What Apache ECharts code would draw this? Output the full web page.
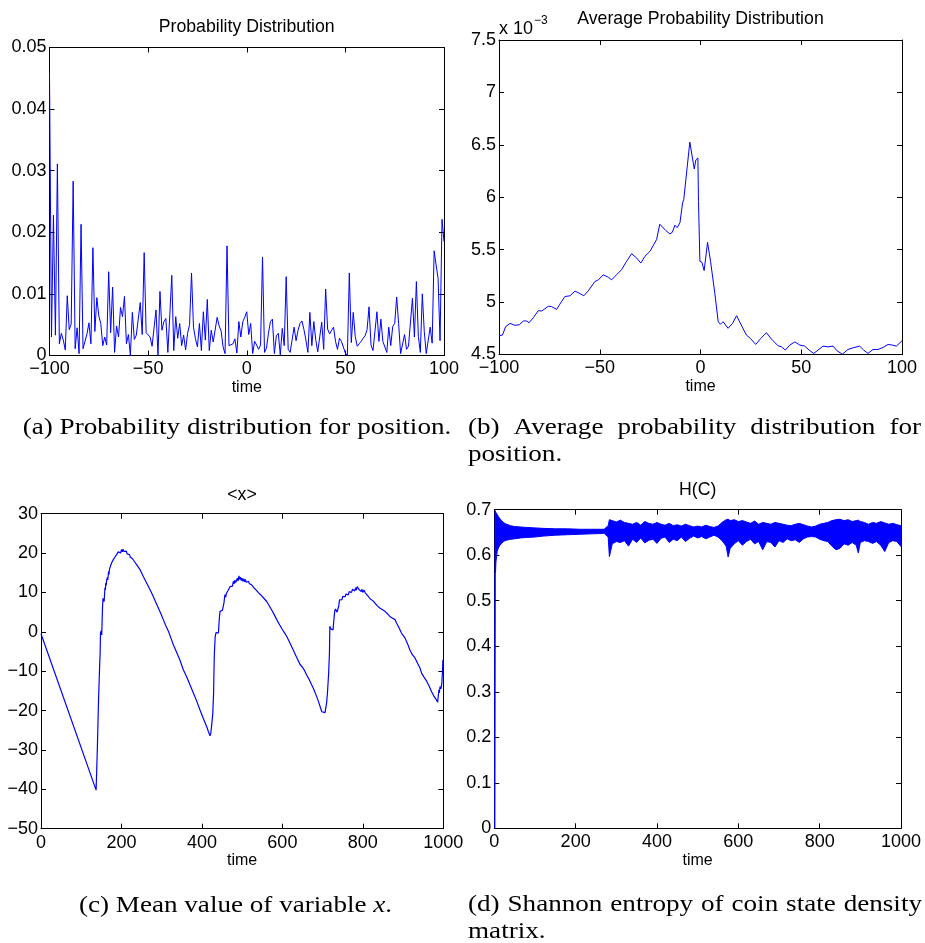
<!DOCTYPE html>
<html><head><meta charset="utf-8">
<script src="https://cdn.jsdelivr.net/npm/echarts@6/dist/echarts.min.js"></script>
<style>html,body{margin:0;padding:0;background:#fff}#c{width:925px;height:943px}</style>
</head><body><div id="c"></div>
<script>
// ---------- DATA ----------
// (a) probability at positions -100..100 (one value per integer position)
const posAStart = -100;
const probA = [
0.0459,0.003,0.0228,0.0033,0.0311,0.0019,0.0036,0.0025,0.0009,0.0097,
0.0042,0.0051,0.0283,0.0011,0.0045,0.0003,0.0213,0.0011,0.0011,0.0035,
0.0053,0.0019,0.0175,0.0039,0.0094,0.0064,0.0052,0.0016,0.003,0.0017,
0.0136,0.0037,0.0111,0.0005,0.0048,0.003,0.0078,0.0063,0.0096,0.0019,
0.0034,0.0,0.007,0.0026,0.0033,0.0033,0.0086,0.0034,0.0167,0.0037,
0.0039,0.003,0.0015,0.0015,0.0074,0.0,0.0104,0.0041,0.0055,0.006,
0.0005,0.0066,0.013,0.0008,0.0063,0.0028,0.0052,0.0016,0.0033,0.0009,
0.0036,0.005,0.0134,0.0046,0.0027,0.0014,0.0052,0.0008,0.0071,0.0025,
0.0091,0.0008,0.0041,0.0022,0.0022,0.0062,0.0048,0.004,0.0014,0.0003,
0.0178,0.0016,0.0014,0.0019,0.0027,0.0004,0.0055,0.003,0.0055,0.0062,
0.0071,
0.0034,0.0052,0.0003,0.0023,0.0017,0.001,0.0017,0.016,0.0005,0.0012,
0.0036,0.0055,0.0059,0.0003,0.0032,0.0036,0.0001,0.0044,0.0016,0.0128,
0.001,0.0005,0.0006,0.0046,0.0024,0.0041,0.0052,0.0056,0.0042,0.0025,
0.0005,0.007,0.0016,0.0055,0.0025,0.0006,0.0005,0.0054,0.001,0.0108,
0.0043,0.0035,0.0041,0.0046,0.0023,0.001,0.0028,0.0023,0.002,0.0004,
0.0,0.0134,0.0021,0.007,0.0031,0.0015,0.0019,0.0023,0.0028,0.0032,
0.0042,0.0079,0.0017,0.0008,0.0008,0.0071,0.0023,0.0059,0.0023,0.0025,
0.0005,0.0046,0.0016,0.0047,0.0052,0.0095,0.0052,0.0003,0.0003,0.0034,
0.001,0.0015,0.0014,0.0093,0.003,0.012,0.0031,0.0005,0.01,0.0039,
0.0003,0.0003,0.0046,0.002,0.017,0.0147,0.0125,0.0024,0.0221,0.0185];

// (b) average probability (in units of 10^-3)
const posB = [-100,-98.3,-96.7,-94.5,-92.1,-89.9,-87.9,-86.3,-85.1,-83,-80.5,-78.8,-75.5,-73.9,-71.4,-69.8,-67.3,-64.8,-62.3,-60.7,-57.9,-55.7,-52.4,-50.7,-48.3,-45.8,-44.1,-41.7,-39.2,-36.7,-34.2,-31.7,-29.6,-27.6,-25.1,-21.8,-20.2,-19.3,-17.2,-15.2,-14,-12.7,-11.6,-10.2,-8.9,-8.3,-5.3,-3.1,-2.3,-1.3,-1,-0.3,0.7,1.8,3.5,5,7.1,8.8,9.9,11.2,12.1,13.7,15.9,17.9,18.7,20.8,22.8,24.8,27.4,29.9,32.7,35.2,38.5,40.2,42.1,44.3,46.8,49.3,51.7,53.9,56.2,58.3,60.8,63.3,65.8,67.8,70.4,73.2,75.7,79,81,83.1,85.6,88.1,90.6,93.1,95.2,97.2,100];
const probB = [4.68,4.685,4.765,4.797,4.778,4.784,4.82,4.82,4.803,4.85,4.918,4.915,4.96,4.957,4.93,4.98,5.053,5.06,5.104,5.09,5.06,5.107,5.196,5.212,5.26,5.238,5.212,5.26,5.308,5.388,5.462,5.42,5.372,5.436,5.484,5.596,5.743,5.743,5.682,5.65,5.665,5.733,5.71,5.756,5.947,5.98,6.526,6.27,6.356,6.375,5.96,5.388,5.38,5.3,5.57,5.388,5.085,4.813,4.788,4.813,4.813,4.75,4.797,4.87,4.86,4.759,4.685,4.653,4.596,4.653,4.708,4.647,4.583,4.573,4.542,4.59,4.62,4.59,4.58,4.542,4.51,4.542,4.58,4.573,4.58,4.535,4.503,4.548,4.564,4.58,4.542,4.51,4.548,4.548,4.567,4.596,4.59,4.58,4.631];

// (c) mean value <x> : [time, value]
const meanC = [[0,-0.5],[137,-40.2],[140,-30],[143,-17.3],[146,-8],[147,-5.4],[148,0.1],[149,-0.5],[150,0.3],[151,-0.8],[152,3],[153,6.4],[154,8.5],[155,9],[156,8.2],[157,7.7],[158,9.6],[159,11.2],[160,10.6],[161,12.4],[162,11.8],[163,13],[164,12.5],[165,13.8],[166,13.2],[168,15.3],[169,14.6],[170,15.8],[172,16],[173,16.8],[175,16.4],[176,17.6],[178,17.2],[180,18.4],[182,17.9],[184,19],[186,18.6],[188,19.6],[190,19.2],[192,20.3],[194,19.8],[196,20.6],[198,20],[200,20.9],[202,20.3],[204,21],[206,20.4],[208,20.8],[210,20.1],[212,20.5],[214,19.8],[216,20],[218,19.4],[220,19.6],[222,19],[224,19.1],[226,18.6],[228,18.5],[230,18.2],[234,17.6],[238,17],[242,16.5],[246,15.8],[254,14.1],[260,12.9],[267,11.5],[273,10.3],[279,9],[285,7.6],[292,6],[298,4.6],[304,3.1],[310,1.6],[317,0.1],[323,-1.6],[329,-3.3],[337,-5.2],[345,-7.1],[354,-9.7],[362,-11.4],[370,-13.4],[379,-15.6],[387,-17.6],[395,-19.8],[403,-21.9],[412,-24.1],[416,-25.3],[420,-26.4],[422,-25.8],[424,-24],[427,-20.7],[429,-15.6],[430,-9.7],[431,-5.4],[433,-1.2],[435,-0.2],[437,-0.5],[439,0.1],[441,-0.3],[443,3],[445,5.2],[447,5.6],[449,5],[451,5.5],[453,5.1],[455,7.5],[457,9.4],[459,8.8],[461,9.8],[463,9.3],[465,10.5],[467,10],[470,11.5],[472,11],[474,12],[476,11.6],[478,12.8],[480,12.2],[482,13.1],[484,12.5],[486,12.8],[488,13.6],[490,12.9],[492,14.2],[494,13.3],[496,13.9],[498,13],[500,13.6],[502,12.8],[504,13.5],[506,12.7],[508,13.3],[510,12.6],[512,13.1],[514,12.4],[516,12.8],[518,12.2],[520,12.5],[523,12],[526,11.8],[529,11.2],[532,11],[535,10.6],[538,10.5],[541,9.9],[544,9.8],[547,9.3],[550,9],[555,8.4],[561,7.7],[567,6.7],[573,5.6],[580,4.3],[586,3.1],[592,2],[598,0.9],[605,-0.2],[611,-1.2],[619,-2.9],[627,-4.6],[635,-6.4],[644,-8.3],[650,-9],[652,-8.6],[655,-9.8],[660,-10.9],[663,-11.2],[665,-11.8],[668,-12.2],[673,-13.5],[678,-14.6],[685,-16.4],[690,-17.8],[698,-20.3],[702,-20.8],[706,-20.5],[708,-20.3],[710,-18],[712,-15.6],[715,-10.5],[717,-5.4],[718,1.4],[720,0.8],[722,0.9],[724,0.3],[726,0.5],[728,3],[730,5.2],[732,5.8],[734,6],[736,5],[738,4.5],[740,6.5],[742,8.1],[744,7.6],[746,8.6],[748,8.2],[750,9],[752,8.6],[754,9.3],[756,8.9],[758,9.6],[760,9.2],[762,9.8],[764,9.4],[766,10.2],[768,9.8],[770,10.5],[772,10],[774,10.8],[776,10.3],[778,11],[780,10.4],[782,11.2],[784,10.6],[786,11.5],[788,11.7],[790,10.8],[792,10.4],[794,11.3],[796,10.2],[798,10.8],[800,10],[803,10.6],[806,9.9],[809,9.8],[812,9.2],[815,9],[818,8.4],[822,8.6],[826,7.8],[830,7.3],[836,6.6],[843,6],[849,5.6],[855,5.2],[861,4.6],[867,3.9],[873,3.5],[880,3.1],[884,2.2],[888,1.4],[892,0.6],[896,-0.3],[900,-0.8],[905,-1.6],[911,-3],[917,-4.6],[923,-5.8],[930,-6.7],[936,-8],[942,-9.2],[946,-10.5],[952,-11.5],[959,-12.6],[965,-13.8],[971,-15.2],[977,-16.4],[983,-17.3],[986,-17.9],[988,-17.7],[989,-14.7],[990,-15.5],[992,-13.9],[994,-14.5],[996,-13.5],[998,-10],[999,-7.1],[1000,-7]];

// (d) entropy H(C): upper and lower envelope of the rapidly oscillating curve
const timeD = [1,2,3,4,7,10,14,18,24,30,40,50,65,80,100,120,150,180,210,240,270,280,283,290,300,310,320,330,340,350,360,370,380,390,400,410,420,430,440,450,460,470,480,490,500,510,520,530,540,550,560,570,575,580,590,600,610,620,630,640,650,660,670,680,690,700,710,720,730,740,750,760,770,780,790,800,810,820,830,840,850,860,870,880,890,895,900,910,920,930,940,950,960,970,980,990,1000];
const upperD = [0,0.698,0.696,0.694,0.69,0.685,0.68,0.676,0.671,0.668,0.665,0.663,0.662,0.661,0.66,0.659,0.658,0.658,0.657,0.657,0.657,0.665,0.678,0.676,0.673,0.677,0.672,0.67,0.668,0.672,0.666,0.674,0.67,0.668,0.672,0.668,0.666,0.67,0.665,0.667,0.664,0.668,0.665,0.662,0.664,0.662,0.666,0.663,0.661,0.664,0.672,0.678,0.679,0.676,0.678,0.674,0.676,0.673,0.67,0.675,0.668,0.672,0.67,0.668,0.672,0.67,0.668,0.666,0.665,0.668,0.67,0.667,0.664,0.662,0.664,0.668,0.67,0.672,0.676,0.678,0.679,0.676,0.678,0.674,0.676,0.677,0.674,0.672,0.668,0.672,0.67,0.674,0.671,0.668,0.67,0.667,0.665];
const lowerD = [0,0.56,0.562,0.585,0.608,0.616,0.622,0.626,0.631,0.633,0.635,0.636,0.638,0.639,0.64,0.642,0.644,0.645,0.646,0.647,0.648,0.64,0.597,0.625,0.63,0.628,0.632,0.62,0.635,0.628,0.638,0.627,0.633,0.635,0.626,0.637,0.64,0.628,0.635,0.632,0.64,0.63,0.637,0.642,0.638,0.641,0.636,0.64,0.644,0.64,0.632,0.62,0.596,0.615,0.625,0.632,0.622,0.63,0.635,0.625,0.63,0.612,0.63,0.628,0.618,0.632,0.628,0.636,0.632,0.634,0.628,0.636,0.64,0.641,0.64,0.635,0.632,0.63,0.62,0.612,0.615,0.625,0.622,0.628,0.622,0.605,0.628,0.632,0.63,0.626,0.63,0.622,0.608,0.628,0.632,0.63,0.619];

// tick values
const xTicksA = [-100,-50,0,50,100];
const yTicksA = [0,0.01,0.02,0.03,0.04,0.05];
const xTicksB = [-100,-50,0,50,100];
const yTicksB = [4.5,5,5.5,6,6.5,7,7.5];
const xTicksC = [0,200,400,600,800,1000];
const yTicksC = [-50,-40,-30,-20,-10,0,10,20,30];
const xTicksD = [0,200,400,600,800,1000];
const yTicksD = [0,0.1,0.2,0.3,0.4,0.5,0.6,0.7];

const titles = ['Probability Distribution','Average Probability Distribution','<x>','H(C)'];
const xName = 'time';

// ---------- LAYOUT ----------
const SANS = '"Liberation Sans", Arial, Helvetica, sans-serif';
const SERIF = '"Liberation Serif", "Times New Roman", serif';
const BLUE = '#0000ff';
const grids = [
  {left:49.5, top:47.5, width:394.5, height:308},
  {left:499, top:40, width:403, height:314.5},
  {left:41, top:513.7, width:402.3, height:315},
  {left:494.3, top:509.7, width:406.7, height:318.6}
];
const minus = s => String(s).replace('-', '\u2212');
const fmtA = v => v === 0 ? '0' : v.toFixed(2);
const fmtB = v => String(+v.toFixed(1));
const fmtD = v => v === 0 ? '0' : v.toFixed(1);

const xAxes = [], yAxes = [];
function addAxes(gi, xt, yt, yfmt) {
  const base = {
    gridIndex: gi, type: 'value',
    axisLine: {show: true, onZero: false, lineStyle: {color: '#000', width: 1}},
    axisTick: {show: true, inside: true, length: 5, lineStyle: {color: '#000', width: 1}},
    splitLine: {show: false}
  };
  xAxes.push(Object.assign({}, base, {
    position: 'bottom', min: xt[0], max: xt[xt.length-1], interval: xt[1]-xt[0],
    axisLabel: {color: '#000', fontFamily: SANS, fontSize: 18, margin: 5, formatter: v => minus(v)},
    name: xName, nameLocation: 'middle', nameGap: 22,
    nameTextStyle: {color: '#000', fontFamily: SANS, fontSize: 16}
  }));
  xAxes.push(Object.assign({}, base, {
    position: 'top', min: xt[0], max: xt[xt.length-1], interval: xt[1]-xt[0],
    axisLabel: {show: false}
  }));
  yAxes.push(Object.assign({}, base, {
    position: 'left', min: yt[0], max: yt[yt.length-1], interval: +(yt[1]-yt[0]).toFixed(6),
    axisLabel: {color: '#000', fontFamily: SANS, fontSize: 18, margin: 3, formatter: v => minus(yfmt(v))}
  }));
  yAxes.push(Object.assign({}, base, {
    position: 'right', min: yt[0], max: yt[yt.length-1], interval: +(yt[1]-yt[0]).toFixed(6),
    axisLabel: {show: false}
  }));
}
addAxes(0, xTicksA, yTicksA, fmtA);
addAxes(1, xTicksB, yTicksB, fmtB);
addAxes(2, xTicksC, yTicksC, v => String(v));
addAxes(3, xTicksD, yTicksD, fmtD);

const lineBase = {type: 'line', showSymbol: false, symbol: 'none', silent: true,
  lineStyle: {color: BLUE, width: 1}, itemStyle: {color: BLUE}};

const series = [
  Object.assign({}, lineBase, {xAxisIndex: 0, yAxisIndex: 0,
    data: probA.map((v, k) => [posAStart + k, v])}),
  Object.assign({}, lineBase, {xAxisIndex: 2, yAxisIndex: 2,
    data: posB.map((x, k) => [x, probB[k]])}),
  Object.assign({}, lineBase, {xAxisIndex: 4, yAxisIndex: 4,
    lineStyle: {color: BLUE, width: 1.2}, data: meanC}),
  {
    type: 'custom', coordinateSystem: 'cartesian2d', xAxisIndex: 6, yAxisIndex: 6, silent: true,
    data: timeD.map((t, k) => [t, lowerD[k], upperD[k]]),
    encode: {x: 0, y: [1, 2]},
    renderItem: function (params, api) {
      if (params.dataIndex !== 0) return null;
      const pts = [];
      for (let k = 0; k < timeD.length; k++) pts.push(api.coord([timeD[k], upperD[k]]));
      for (let k = timeD.length - 1; k >= 0; k--) pts.push(api.coord([timeD[k], lowerD[k]]));
      return {type: 'polygon', shape: {points: pts},
        style: {fill: BLUE, stroke: BLUE, lineWidth: 1}};
    }
  }
];

// ---------- TEXT ----------
const graphics = [];
function txt(x, y, text, font, align, extra) {
  graphics.push(Object.assign({type: 'text', x: x, y: y, silent: true,
    style: {text: text, font: font, fill: '#000',
      align: align || 'left', verticalAlign: 'middle',
      textAlign: align || 'left', textVerticalAlign: 'middle'}}, extra || {}));
}
const titleFont = '17.7px ' + SANS;
const titlePos = [[246.7, 26.7], [700.5, 19], [242, 495], [697.7, 490]];
titles.forEach((t, k) => txt(titlePos[k][0], titlePos[k][1], t, titleFont, 'center'));
// multiplier of panel (b)
txt(499, 29.5, 'x 10', '18px ' + SANS, 'left');
txt(534, 20.5, '\u22123', '12px ' + SANS, 'left');

// captions
const CAP_SIZE = 24, CAP_SX = 1.13;
const capFont = CAP_SIZE + 'px ' + SERIF;
const measureCtx = document.createElement('canvas').getContext('2d');
function wOf(s, font) { measureCtx.font = font; return measureCtx.measureText(s).width; }
function justify(words, x0, x1, y) {
  const widths = words.map(w => wOf(w, capFont) * CAP_SX);
  const total = widths.reduce((a, b) => a + b, 0);
  const gap = (x1 - x0 - total) / (words.length - 1);
  let x = x0;
  words.forEach((w, k) => { txt(x, y, w, capFont, 'left', {scaleX: CAP_SX}); x += widths[k] + gap; });
}
txt(237, 428, '(a) Probability distribution for position.', capFont, 'center', {scaleX: CAP_SX});
justify(['(b)', 'Average', 'probability', 'distribution', 'for'], 468, 921, 428);
txt(468, 455, 'position.', capFont, 'left', {scaleX: CAP_SX});
graphics.push({type: 'text', x: 235.5, y: 906, silent: true, scaleX: CAP_SX, style: {
  text: '{r|(c) Mean value of variable }{i|x}{r|.}', align: 'center', verticalAlign: 'middle',
  textAlign: 'center', textVerticalAlign: 'middle',
  rich: {r: {fontFamily: SERIF, fontSize: CAP_SIZE, fill: '#000'},
         i: {fontStyle: 'italic', fontFamily: SERIF, fontSize: CAP_SIZE, fill: '#000'}}}});
justify(['(d)', 'Shannon', 'entropy', 'of', 'coin', 'state', 'density'], 468, 922, 905);
txt(468, 932, 'matrix.', capFont, 'left', {scaleX: CAP_SX});

const chart = echarts.init(document.getElementById('c'), null, {renderer: 'canvas'});
chart.setOption({
  animation: false,
  backgroundColor: '#fff',
  grid: grids.map(g => Object.assign({containLabel: false}, g)),
  xAxis: xAxes, yAxis: yAxes, series: series, graphic: graphics
});
</script></body></html>
